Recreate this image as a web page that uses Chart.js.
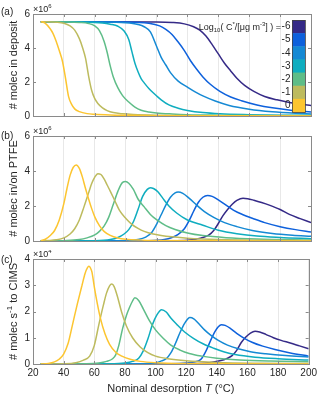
<!DOCTYPE html>
<html>
<head>
<meta charset="utf-8">
<script src="https://cdn.jsdelivr.net/npm/chart.js@4/dist/chart.umd.min.js"></script>
<style>
  html, body { margin: 0; padding: 0; background: #fff; }
  #wrap { position: relative; width: 320px; height: 395px; }
  canvas { position: absolute; left: 0; }
</style>
</head>
<body>
<div id="wrap">
  <canvas id="chartA" width="320" height="125" style="top:0"></canvas>
  <canvas id="chartB" width="320" height="125" style="top:125px"></canvas>
  <canvas id="chartC" width="320" height="145" style="top:250px"></canvas>
</div>
<script>
// log10(C*) bins, in drawing order (0 first, -6 on top)
const logCstar = ['0', '-1', '-2', '-3', '-4', '-5', '-6'];
const lineColors = ['#fcc530', '#bdbb5e', '#5fbd88', '#0fadbf', '#1589d4', '#0e61dc', '#352a87'];

const xTicks = [20, 40, 60, 80, 100, 120, 140, 160, 180, 200];

// (a) molecules left in deposit, units of 1e6, pairs of [T degC, value]
const dep0 = [[25,5.55],[28,5.45],[31,5.15],[33,4.85],[35,4.4],[37,3.85],[39,3.25],[41,2.25],[43,1.15],[45,0.68],[47,0.42],[50,0.26],[55,0.14],[60,0.1],[70,0.06],[80,0.04],[100,0.02],[150,0.01],[200,0.005]];
const depM1 = [[25,5.55],[35,5.52],[40,5.46],[44,5.3],[47,5.05],[50,4.55],[52,4.05],[54,3.4],[56,2.35],[58,1.5],[60,1.02],[62,0.74],[65,0.48],[68,0.32],[72,0.2],[78,0.13],[85,0.09],[100,0.05],[130,0.02],[200,0.01]];
const depM2 = [[25,5.55],[40,5.53],[50,5.5],[56,5.44],[60,5.3],[63,5.02],[66,4.4],[68,3.75],[70,2.95],[72,2.3],[75,1.65],[78,1.2],[82,0.82],[86,0.52],[90,0.34],[95,0.24],[100,0.18],[110,0.12],[120,0.08],[140,0.05],[170,0.03],[200,0.02]];
const depM3 = [[25,5.55],[50,5.53],[65,5.47],[70,5.4],[75,5.28],[79,5.0],[82,4.5],[84,3.8],[86,3.1],[88,2.6],[90,2.2],[92,1.95],[95,1.62],[98,1.35],[103,0.95],[108,0.65],[114,0.46],[120,0.33],[130,0.2],[141,0.13],[160,0.08],[180,0.05],[200,0.04]];
const depM4 = [[25,5.55],[60,5.53],[80,5.48],[88,5.38],[92,5.25],[96,4.95],[100,4.1],[103,3.45],[106,3.0],[109,2.55],[114,2.05],[120,1.7],[125,1.42],[130,1.18],[138,0.88],[147,0.62],[160,0.4],[175,0.25],[190,0.16],[200,0.12]];
const depM5 = [[25,5.55],[80,5.53],[95,5.45],[102,5.3],[106,5.1],[110,4.8],[114,4.35],[118,3.85],[122,3.25],[126,2.75],[130,2.3],[135,1.85],[141,1.45],[148,1.12],[155,0.9],[165,0.65],[175,0.48],[188,0.33],[200,0.24]];
const depM6 = [[25,5.55],[100,5.53],[110,5.5],[118,5.42],[124,5.25],[128,5.05],[132,4.7],[136,4.2],[140,3.65],[144,3.1],[148,2.65],[152,2.22],[157,1.8],[163,1.45],[170,1.15],[178,0.95],[186,0.8],[193,0.7],[200,0.62]];

// (b) molecules in/on PTFE, units of 1e6
const ptfe0 = [[25,0.02],[28,0.1],[31,0.3],[34,0.6],[37,1.2],[40,2.15],[42,3.0],[44,3.75],[46,4.2],[48,4.35],[50,4.15],[52,3.65],[54,3.0],[56,2.4],[58,1.85],[60,1.38],[63,0.88],[66,0.55],[70,0.32],[75,0.17],[80,0.1],[90,0.05],[100,0.03],[130,0.01],[200,0]];
const ptfeM1 = [[25,0.01],[30,0.03],[35,0.07],[40,0.18],[44,0.4],[47,0.7],[50,1.2],[53,1.95],[56,2.75],[58,3.28],[60,3.65],[62,3.85],[64,3.8],[66,3.55],[68,3.2],[70,2.85],[73,2.3],[76,1.75],[80,1.3],[84,0.95],[88,0.72],[92,0.55],[97,0.42],[103,0.32],[110,0.24],[120,0.16],[140,0.08],[170,0.04],[200,0.02]];
const ptfeM2 = [[25,0],[40,0.02],[50,0.08],[55,0.18],[60,0.35],[63,0.55],[66,0.85],[69,1.35],[72,2.1],[75,2.85],[78,3.35],[80,3.4],[82,3.3],[85,2.95],[88,2.4],[92,1.95],[96,1.52],[100,1.22],[106,0.88],[112,0.66],[120,0.46],[130,0.31],[145,0.19],[165,0.11],[200,0.05]];
const ptfeM3 = [[25,0],[60,0.02],[70,0.08],[75,0.2],[79,0.4],[82,0.65],[85,1.1],[88,1.8],[91,2.55],[94,2.95],[96,3.05],[98,3.0],[101,2.8],[104,2.45],[108,2.0],[113,1.6],[120,1.2],[130,0.9],[140,0.62],[152,0.42],[165,0.28],[180,0.2],[200,0.13]];
const ptfeM4 = [[25,0],[80,0.02],[88,0.08],[93,0.22],[97,0.5],[100,0.95],[103,1.5],[106,2.05],[109,2.5],[112,2.75],[114,2.8],[117,2.72],[121,2.45],[126,2.05],[131,1.68],[137,1.35],[144,1.05],[152,0.82],[162,0.6],[175,0.43],[188,0.33],[200,0.27]];
const ptfeM5 = [[25,0],[95,0.02],[105,0.08],[110,0.2],[114,0.38],[118,0.7],[121,1.15],[124,1.7],[127,2.2],[130,2.5],[133,2.6],[136,2.55],[140,2.35],[145,2.05],[150,1.75],[156,1.5],[162,1.3],[170,1.05],[180,0.82],[190,0.65],[200,0.52]];
const ptfeM6 = [[25,0],[110,0.02],[120,0.05],[126,0.12],[130,0.2],[134,0.35],[137,0.6],[140,1.0],[143,1.45],[146,1.8],[149,2.1],[152,2.32],[156,2.45],[159,2.42],[163,2.33],[168,2.2],[173,2.05],[180,1.8],[186,1.52],[193,1.28],[200,1.05]];

// (c) molecules per second to CIMS, units of 1e4
const cims0 = [[25,0],[30,0.02],[34,0.08],[37,0.18],[40,0.38],[43,0.8],[46,1.55],[49,2.3],[52,3.0],[54,3.45],[55.5,3.66],[56.5,3.72],[57.5,3.66],[58.5,3.5],[60,2.95],[62,2.3],[64,1.75],[67,1.15],[70,0.75],[74,0.45],[78,0.3],[84,0.17],[90,0.1],[100,0.05],[120,0.02],[200,0]];
const cimsM1 = [[25,0],[40,0.01],[48,0.05],[53,0.15],[57,0.3],[60,0.7],[63,1.5],[66,2.25],[68,2.7],[70,2.98],[71.5,3.05],[73,2.95],[75,2.6],[78,1.95],[81,1.45],[85,1.0],[90,0.65],[95,0.43],[100,0.3],[108,0.2],[120,0.12],[140,0.06],[170,0.03],[200,0.02]];
const cimsM2 = [[25,0],[55,0.01],[63,0.04],[68,0.1],[72,0.2],[74,0.35],[76,0.7],[78.5,1.35],[81,1.85],[83,2.15],[85,2.4],[86.5,2.52],[89,2.42],[92,2.1],[96,1.65],[100,1.3],[105,0.98],[110,0.72],[116,0.53],[122,0.4],[130,0.3],[140,0.22],[155,0.15],[175,0.11],[200,0.09]];
const cimsM3 = [[25,0],[70,0.01],[80,0.04],[85,0.1],[89,0.22],[92,0.5],[95,0.95],[98,1.5],[101,1.88],[104,2.07],[107,1.98],[110,1.75],[114,1.5],[119,1.22],[125,0.97],[131,0.77],[138,0.6],[145,0.46],[152,0.36],[165,0.26],[180,0.2],[200,0.15]];
const cimsM4 = [[25,0],[90,0.01],[100,0.05],[104,0.12],[107,0.2],[110,0.42],[113,0.78],[116,1.2],[119,1.55],[122.5,1.77],[125,1.72],[128,1.55],[132,1.3],[136,1.1],[141,0.9],[147,0.72],[154,0.58],[162,0.47],[172,0.39],[185,0.32],[200,0.27]];
const cimsM5 = [[25,0],[110,0.01],[120,0.04],[128,0.12],[130,0.2],[133,0.5],[136,0.9],[139,1.25],[141,1.42],[143,1.5],[145.5,1.47],[149,1.35],[153,1.17],[158,0.98],[163,0.83],[170,0.68],[178,0.55],[188,0.42],[200,0.3]];
const cimsM6 = [[25,0],[120,0.01],[135,0.05],[142,0.12],[147,0.22],[150,0.32],[153,0.52],[156,0.82],[159,1.03],[162,1.18],[165,1.25],[168,1.22],[172,1.13],[177,1.0],[182,0.9],[188,0.8],[194,0.69],[200,0.58]];

const FONT = '"Liberation Sans", Arial, Helvetica, sans-serif';
const TXT = '#262626';
const AXIS = '#8a8a8a';

function setFont(ctx, mode, size) {
  const s = (mode === 'sup' || mode === 'sub') ? Math.round(size * 0.7) : size;
  ctx.font = (mode === 'it' ? 'italic ' : '') + s + 'px ' + FONT;
}

function richWidth(ctx, parts, size) {
  let w = 0;
  parts.forEach(p => { setFont(ctx, p[1], size); w += ctx.measureText(p[0]).width; });
  return w;
}

// draw text pieces with sub/superscripts, starting at x on baseline y
function drawRich(ctx, parts, x, y, size) {
  ctx.textAlign = 'left';
  ctx.textBaseline = 'alphabetic';
  ctx.fillStyle = TXT;
  parts.forEach(p => {
    setFont(ctx, p[1], size);
    let dy = 0;
    if (p[1] === 'sup') dy = -size * 0.4;
    if (p[1] === 'sub') dy = size * 0.3;
    ctx.fillText(p[0], x, y + dy);
    x += ctx.measureText(p[0]).width;
  });
}

function panelDecor(cfg) {
  return {
    id: 'panelDecor',
    afterDatasetsDraw(chart) {
      const ctx = chart.ctx;
      const { left, right, top, bottom } = chart.chartArea;
      ctx.save();
      // box and inward ticks
      ctx.strokeStyle = AXIS;
      ctx.lineWidth = 1;
      ctx.strokeRect(Math.round(left) + 0.5, Math.round(top) + 0.5, Math.round(right - left), Math.round(bottom - top));
      ctx.beginPath();
      chart.scales.x.ticks.forEach(t => {
        const px = Math.round(chart.scales.x.getPixelForValue(t.value)) + 0.5;
        ctx.moveTo(px, bottom); ctx.lineTo(px, bottom - 3);
        ctx.moveTo(px, top); ctx.lineTo(px, top + 3);
      });
      chart.scales.y.ticks.forEach(t => {
        const py = Math.round(chart.scales.y.getPixelForValue(t.value)) + 0.5;
        ctx.moveTo(left, py); ctx.lineTo(left + 3, py);
        ctx.moveTo(right, py); ctx.lineTo(right - 3, py);
      });
      ctx.stroke();
      ctx.restore();
    },
    afterDraw(chart) {
      const ctx = chart.ctx;
      const { left, right, top, bottom } = chart.chartArea;
      ctx.save();
      // panel tag
      ctx.fillStyle = TXT;
      ctx.font = '10px ' + FONT;
      ctx.textBaseline = 'middle';
      ctx.textAlign = 'left';
      ctx.fillText(cfg.tag, 1, cfg.tagY);
      // exponent
      drawRich(ctx, [['\u00d710', ''], [cfg.exp, 'sup']], left, top - 2.5, 9);
      // y title
      ctx.save();
      ctx.translate(12.5, (top + bottom) / 2);
      ctx.rotate(-Math.PI / 2);
      const w = richWidth(ctx, cfg.yTitle, 11);
      drawRich(ctx, cfg.yTitle, -w / 2, 4, 11);
      ctx.restore();
      // x title
      if (cfg.xTitle) {
        const wx = richWidth(ctx, cfg.xTitle, 11);
        drawRich(ctx, cfg.xTitle, (left + right) / 2 - wx / 2, bottom + 28, 11);
      }
      if (cfg.colorbar) drawColorbar(ctx);
      ctx.restore();
    }
  };
}

function drawColorbar(ctx) {
  const x0 = 292, x1 = 305, y0 = 20, y1 = 112;
  const n = logCstar.length;
  const h = (y1 - y0) / n;
  ctx.font = '10px ' + FONT;
  ctx.textAlign = 'right';
  ctx.textBaseline = 'middle';
  for (let i = 0; i < n; i++) {
    const k = n - 1 - i; // top band is -6
    ctx.fillStyle = lineColors[k];
    ctx.fillRect(x0, y0 + i * h, x1 - x0, h + 0.5);
    ctx.fillStyle = TXT;
    ctx.fillText(logCstar[k], 290.5, y0 + (i + 0.5) * h);
  }
  ctx.strokeStyle = '#444';
  ctx.lineWidth = 0.8;
  ctx.strokeRect(x0 + 0.5, y0 + 0.5, x1 - x0, y1 - y0);
  const label = [['Log', ''], ['10', 'sub'], ['( C', ''], ['*', 'sup'], ['/[\u03bcg m', ''], ['-3', 'sup'], ['] ) =', '']];
  const w = richWidth(ctx, label, 9);
  drawRich(ctx, label, 281 - w, y0 + 0.5 * h + 3.2, 9);
}

function buildPanel(canvasId, series, cfg) {
  return new Chart(document.getElementById(canvasId), {
    type: 'line',
    data: {
      datasets: series.map((pts, i) => ({
        label: logCstar[i],
        data: pts.map(p => ({ x: p[0], y: p[1] })),
        borderColor: lineColors[i],
        borderWidth: 1.5,
        pointRadius: 0,
        cubicInterpolationMode: 'monotone',
        fill: false,
      })),
    },
    options: {
      responsive: false,
      animation: false,
      events: [],
      layout: { padding: cfg.padding },
      plugins: { legend: { display: false }, tooltip: { enabled: false } },
      scales: {
        x: {
          type: 'linear', min: 20, max: 200,
          afterBuildTicks: s => { s.ticks = xTicks.map(v => ({ value: v })); },
          ticks: { display: cfg.showX, font: { family: FONT, size: 10 }, color: TXT, padding: 3, maxRotation: 0 },
          grid: { color: '#e8e8e8', drawTicks: false },
          border: { display: false },
          afterFit: s => { s.height = cfg.xHeight; },
        },
        y: {
          min: 0, max: cfg.yMax,
          ticks: { stepSize: cfg.yStep, font: { family: FONT, size: 10 }, color: TXT, padding: 3 },
          grid: { display: false, drawTicks: false },
          border: { display: false },
          afterFit: s => { s.width = 33; },
        },
      },
    },
    plugins: [panelDecor(cfg)],
  });
}

buildPanel('chartA', [dep0, depM1, depM2, depM3, depM4, depM5, depM6], {
  padding: { top: 14, right: 9, bottom: 6, left: 0 }, xHeight: 0, showX: false,
  yMax: 6, yStep: 2, tag: '(a)', tagY: 12, exp: '6', colorbar: true,
  yTitle: [['# molec in deposit', '']],
});

buildPanel('chartB', [ptfe0, ptfeM1, ptfeM2, ptfeM3, ptfeM4, ptfeM5, ptfeM6], {
  padding: { top: 11, right: 9, bottom: 8, left: 0 }, xHeight: 0, showX: false,
  yMax: 6, yStep: 2, tag: '(b)', tagY: 11, exp: '6',
  yTitle: [['# molec in/on PTFE', '']],
});

buildPanel('chartC', [cims0, cimsM1, cimsM2, cimsM3, cimsM4, cimsM5, cimsM6], {
  padding: { top: 8, right: 9, bottom: 0, left: 0 }, xHeight: 31, showX: true,
  yMax: 4, yStep: 1, tag: '(c)', tagY: 10, exp: '4',
  yTitle: [['# molec s', ''], ['-1', 'sup'], [' to CIMS', '']],
  xTitle: [['Nominal desorption ', ''], ['T', 'it'], [' (\u00b0C)', '']],
});
</script>
</body>
</html>
